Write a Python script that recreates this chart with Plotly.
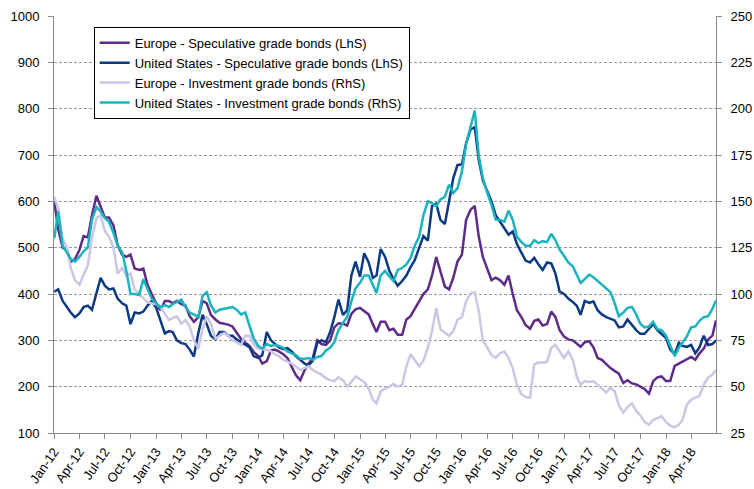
import plotly.graph_objects as go

# ---- dates: semi-monthly observations (1st and 16th), Jan 2012 - Jun 2018 ----
dates = []
for yr in range(2012, 2019):
    for mo in range(1, 13):
        if yr == 2018 and mo > 6:
            break
        for dd in (1, 16):
            dates.append(f"{yr}-{mo:02d}-{dd:02d}")
dates[0] = "2012-01-02"
dates.append("2018-06-29")

# ---- series ----
# Europe - Speculative grade bonds (LhS)
eu_hy = [
    600, 540, 500, 495, 470, 475, 495, 525, 522, 570, 612, 590, 565, 565, 548, 505, 485, 480, 485, 455, 452, 455, 420, 400,
    380, 365, 385, 385, 380, 385, 378, 375, 352, 340, 350, 385, 380, 355, 345, 338, 336, 334, 330, 318, 303, 295, 288, 275,
    266, 250, 255, 278, 280, 276, 270, 262, 245, 225, 214, 235, 250, 262, 300, 292, 290, 300, 328, 337, 336, 332, 357, 367,
    370, 364, 356, 335, 318, 340, 340, 322, 325, 312, 312, 345, 352, 368, 385, 400, 410, 440, 480, 450, 416, 410, 435, 470,
    485, 560, 582, 590, 525, 480, 455, 430, 435, 430, 420, 440, 400, 365, 350, 333, 325, 342, 345, 332, 335, 362, 350, 322,
    308, 302, 300, 292, 286, 296, 298, 285, 262, 258, 248, 240, 234, 228, 208, 214, 207, 205, 200, 195, 185, 212, 220, 222,
    212, 212, 245, 250, 254, 258, 264, 258, 272, 282, 302, 310, 343,
]
# United States - Speculative grade bonds (LhS)
us_hy = [
    405, 410, 385, 372, 360, 350, 358, 372, 375, 366, 400, 435, 418, 410, 412, 390, 380, 375, 335, 360, 358, 362, 375, 385,
    370, 345, 315, 320, 318, 300, 294, 292, 280, 265, 316, 355, 335, 310, 302, 318, 318, 310, 310, 302, 296, 290, 285, 266,
    262, 268, 318, 300, 292, 285, 281, 283, 276, 266, 258, 250, 246, 256, 295, 300, 296, 318, 350, 388, 355, 365, 440, 470,
    437, 488, 468, 435, 440, 497, 480, 450, 432, 418, 428, 440, 458, 473, 500, 525, 515, 590, 595, 560, 551, 605, 650, 678,
    680, 725, 755, 760, 690, 645, 622, 600, 570, 555, 542, 528, 535, 508, 490, 472, 468, 478, 464, 452, 468, 466, 444, 405,
    400, 390, 383, 374, 355, 385, 381, 384, 365, 356, 350, 347, 343, 328, 330, 345, 333, 322, 314, 314, 325, 335, 322, 314,
    305, 280, 270, 295, 288, 286, 290, 272, 285, 310, 290, 292, 300,
]
# Europe - Investment grade bonds (RhS)
eu_ig = [
    152.5, 146, 130, 125, 114, 107.5, 105, 110, 115.5, 130, 141, 142.5, 134, 131, 125, 111, 114, 110, 111, 102.5, 100, 97.5, 95.5, 95,
    94.5, 93, 89, 86, 87, 88, 84, 86, 82.5, 75, 70.5, 81, 88, 84, 76, 77.5, 79, 77.5, 75, 74, 72.5, 77.5, 77.5, 73,
    70.5, 70, 70, 69, 67.5, 66.5, 64.5, 63.5, 62.5, 61, 59, 60, 61, 59, 57.5, 56.5, 54.5, 53.5, 53, 55, 53.5, 50, 52.5, 55.5,
    54, 52.5, 49, 43, 41, 47.5, 49, 50, 51.5, 50, 51, 61, 67.5, 64.5, 61, 64, 71, 80, 92.5, 81, 79, 77.5, 80, 86,
    87.5, 96, 100.5, 101, 91, 75, 71, 67, 65.5, 68, 69, 65.5, 60, 51, 46, 44.5, 44, 62, 63, 63, 63.5, 71, 72.5, 69,
    65.5, 69, 64.5, 55, 51, 53, 52.5, 53, 51, 49.5, 47, 49.5, 47.5, 40, 36, 39, 41, 37, 34.5, 31, 29.5, 32, 33, 34,
    31, 29, 28, 29.5, 32, 40, 43, 44, 45, 51, 55, 56.5, 59,
]
# United States - Investment grade bonds (RhS)
us_ig = [
    130, 144.5, 126, 122.5, 119, 117.5, 120, 123, 125, 140, 147, 144.5, 141, 139, 133, 126, 122.5, 112.5, 100, 100, 99.5, 108, 102.5, 97.5,
    95, 93, 94, 93, 94.5, 95.5, 97, 93, 90, 89, 87.5, 99, 101, 94, 90, 91.5, 92, 92.5, 93, 91.5, 89, 90, 82.5, 76,
    72, 70.5, 73, 72, 72.5, 72, 71, 69, 68, 67, 65, 65, 65.5, 64.5, 66, 66.5, 69.5, 71, 74, 80.5, 84.5, 87.5, 96, 103,
    106, 110, 110, 104.5, 100.5, 110, 112.5, 109.5, 107, 113, 114, 116, 119.5, 126, 131, 142.5, 150, 149, 147.5, 151, 152.5, 159, 154.5, 157,
    166, 181, 191, 199, 175, 162.5, 154.5, 148, 140, 140, 139, 145, 140, 131, 128, 126, 126, 129, 127.5, 128.5, 128, 132.5, 129, 124,
    120.5, 117, 115, 110, 106, 108, 110.5, 109, 107, 105, 103, 101, 95, 88, 90, 92.5, 93, 89, 84, 82, 82.5, 85, 81, 80.5,
    77.5, 72, 66.5, 71, 73.5, 77, 82, 82.5, 85.5, 87.5, 88, 92, 96.5,
]

names = [
    "Europe - Speculative grade bonds (LhS)",
    "United States - Speculative grade bonds (LhS)",
    "Europe - Investment grade bonds (RhS)",
    "United States - Investment grade bonds (RhS)",
]
colors = ["#5E2C86", "#0C3A82", "#CAC7E5", "#1BB3BD"]

# axis ticks
month_abbr = ["Jan", "Apr", "Jul", "Oct"]
tick_vals, tick_text = [], []
for yr in range(2012, 2019):
    for qi, mo in enumerate((1, 4, 7, 10)):
        if yr == 2018 and mo > 4:
            break
        tick_vals.append(f"{yr}-{mo:02d}-01")
        tick_text.append(f"{month_abbr[qi]}-{str(yr)[2:]}")
left_ticks = list(range(100, 1001, 100))
right_ticks = list(range(25, 251, 25))

FONT = "Liberation Sans, Arial, sans-serif"
fig = go.Figure()
series = [(eu_hy, "y"), (us_hy, "y"), (eu_ig, "y2"), (us_ig, "y2")]
for (vals, ax), name, col in zip(series, names, colors):
    fig.add_trace(go.Scatter(x=dates, y=vals, name=name, yaxis=ax, mode="lines",
                             line=dict(color=col, width=2.5)))

axis_common = dict(showline=True, linecolor="#8a8a8a", linewidth=1, ticks="outside",
                   ticklen=5, tickcolor="#8a8a8a", zeroline=False, automargin=False,
                   tickfont=dict(family=FONT, size=13, color="#000000"))
fig.update_layout(
    width=754, height=489,
    margin=dict(l=54, r=38, t=16, b=56),
    paper_bgcolor="white", plot_bgcolor="white",
    font=dict(family=FONT, size=13, color="#000000"),
    showlegend=True,
    legend=dict(x=0.06, y=0.974, xanchor="left", yanchor="top",
                bordercolor="#000000", borderwidth=1, bgcolor="white",
                font=dict(family=FONT, size=13), tracegroupgap=0),
    xaxis=dict(type="date", range=["2012-01-01", "2018-06-29"], tickvals=tick_vals,
               ticktext=tick_text, tickangle=-55, showgrid=False, **axis_common),
    yaxis=dict(range=[100, 1000], tickvals=left_ticks, showgrid=True,
               gridcolor="#9a9a9a", gridwidth=1, griddash="3px,2px",
               ticklabelstandoff=6, **axis_common),
    yaxis2=dict(range=[25, 250], tickvals=right_ticks, overlaying="y", side="right",
                showgrid=False, ticklabelstandoff=6, **axis_common),
)
fig.write_html(
    "out.html",
    config={"displayModeBar": False},
    post_script="document.body.style.margin='0';document.body.style.overflow='hidden';",
)
